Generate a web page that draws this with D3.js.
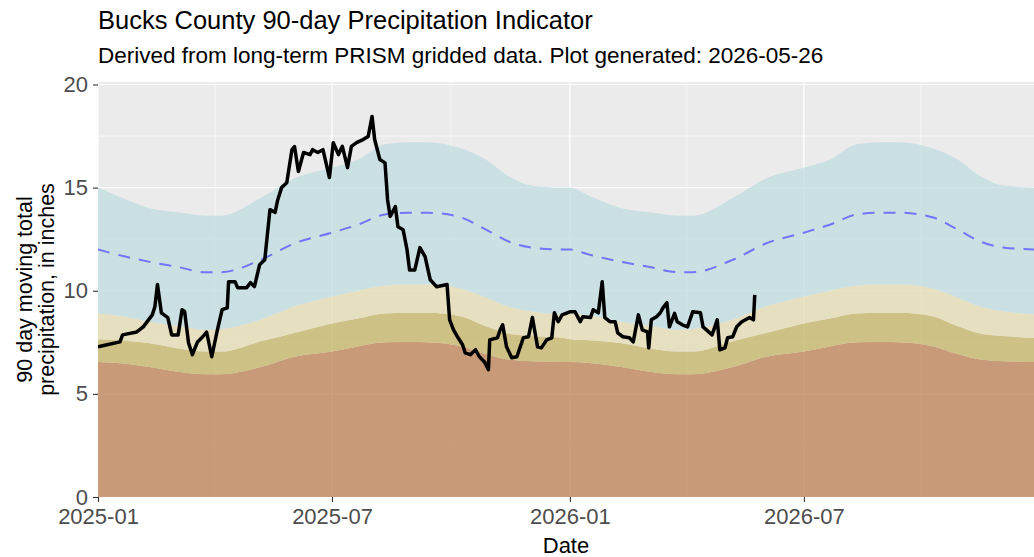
<!DOCTYPE html>
<html>
<head>
<meta charset="utf-8">
<script src="https://cdn.jsdelivr.net/npm/d3@7"></script>
<style>
  body { margin: 0; background: #fff; }
  svg { display: block; font-family: "Liberation Sans", Arial, sans-serif; }
</style>
</head>
<body>
<svg id="chart" width="1034" height="557"></svg>
<script>
const obsDates = [
  "2025-01-01","2025-01-08","2025-01-18","2025-01-20","2025-01-31","2025-02-05","2025-02-12","2025-02-14",
  "2025-02-16","2025-02-19","2025-02-24","2025-02-27","2025-03-04","2025-03-07","2025-03-09","2025-03-12",
  "2025-03-15","2025-03-19","2025-03-23","2025-03-26","2025-03-30","2025-04-03","2025-04-07","2025-04-11",
  "2025-04-12","2025-04-17","2025-04-19","2025-04-26","2025-04-29","2025-05-02","2025-05-06","2025-05-10",
  "2025-05-14","2025-05-18","2025-05-20","2025-05-23","2025-05-27","2025-05-31","2025-06-02","2025-06-05",
  "2025-06-09","2025-06-14","2025-06-16","2025-06-20","2025-06-24","2025-06-29","2025-07-02","2025-07-06",
  "2025-07-09","2025-07-13","2025-07-16","2025-07-20","2025-07-25","2025-07-29","2025-08-01","2025-08-03",
  "2025-08-07","2025-08-11","2025-08-13","2025-08-15","2025-08-19","2025-08-21","2025-08-25","2025-08-28",
  "2025-08-30","2025-09-03","2025-09-07","2025-09-11","2025-09-15","2025-09-20","2025-09-28","2025-09-30",
  "2025-10-03","2025-10-06","2025-10-10","2025-10-12","2025-10-16","2025-10-20","2025-10-23","2025-10-27",
  "2025-10-30","2025-10-31","2025-11-06","2025-11-08","2025-11-10","2025-11-13","2025-11-17","2025-11-21",
  "2025-11-26","2025-11-30","2025-12-03","2025-12-07","2025-12-10","2025-12-14","2025-12-18","2025-12-20",
  "2025-12-23","2025-12-26","2026-01-01","2026-01-05","2026-01-09","2026-01-11","2026-01-17","2026-01-19",
  "2026-01-23","2026-01-26","2026-01-28","2026-02-01","2026-02-05","2026-02-07","2026-02-11","2026-02-16",
  "2026-02-19","2026-02-23","2026-02-26","2026-03-02","2026-03-03","2026-03-05","2026-03-09","2026-03-12",
  "2026-03-14","2026-03-17","2026-03-19","2026-03-23","2026-03-25","2026-03-29","2026-04-02","2026-04-06",
  "2026-04-12","2026-04-14","2026-04-21","2026-04-25","2026-04-27","2026-05-01","2026-05-03","2026-05-07",
  "2026-05-10","2026-05-14","2026-05-20","2026-05-23","2026-05-24"
];
const obsValues = [
  7.28, 7.38, 7.52, 7.86, 8.0, 8.25, 8.83, 9.22,
  10.3, 8.93, 8.7, 7.86, 7.86, 9.08, 9.0, 7.48,
  6.9, 7.52, 7.77, 8.0, 6.8, 8.0, 9.08, 9.17,
  10.44, 10.44, 10.15, 10.15, 10.39, 10.2, 11.26, 11.5,
  13.93, 13.8, 14.4, 15.0, 15.24, 16.84, 16.99, 15.78,
  16.7, 16.6, 16.84, 16.7, 16.84, 15.49, 17.18, 16.6,
  17.0, 15.97, 17.0, 17.18, 17.33, 17.48, 18.45, 17.33,
  16.36, 16.2, 14.4, 13.6, 14.08, 13.1, 12.96, 12.0,
  11.0, 11.0, 12.09, 11.65, 10.53, 10.19, 10.3, 8.59,
  8.1, 7.77, 7.38, 6.99, 6.9, 7.14, 6.8, 6.55,
  6.17, 7.62, 7.72, 8.1, 8.35, 7.28, 6.75, 6.8,
  7.72, 7.77, 8.7, 7.28, 7.23, 7.62, 7.72, 8.93,
  8.5, 8.83, 8.98, 8.98, 8.5, 8.74, 8.7, 9.08,
  8.93, 10.44, 8.7, 8.5, 8.5, 7.96, 7.77, 7.72,
  7.52, 8.83, 8.1, 8.0, 7.23, 8.59, 8.74, 8.93,
  9.17, 9.42, 8.25, 8.9, 8.5, 8.35, 8.25, 8.98,
  8.93, 8.25, 7.86, 8.59, 7.14, 7.23, 7.72, 7.77,
  8.25, 8.5, 8.7, 8.59, 9.8
];

// long-term climatology (same every year), month-day anchors
const climDays = ["01-01","01-16","02-10","03-04","03-25","04-06","05-07","06-02","06-30",
  "07-21","08-11","08-29","09-13","10-09","10-27","11-16","12-02","12-26"];
const climSevere   = [6.55, 6.5, 6.3, 6.07, 5.95, 5.95, 6.3, 6.8, 7.04, 7.3, 7.5, 7.52, 7.5, 7.3, 6.95, 6.65, 6.58, 6.55];
const climModerate = [7.65, 7.6, 7.45, 7.2, 7.05, 7.05, 7.55, 7.95, 8.4, 8.65, 8.9, 8.93, 8.93, 8.75, 8.3, 7.9, 7.8, 7.72];
const climMild     = [8.9, 8.8, 8.5, 8.3, 8.1, 8.15, 8.6, 9.25, 9.7, 10.0, 10.25, 10.3, 10.3, 10.1, 9.7, 9.2, 9.0, 8.85];
const climHigh     = [15.0, 14.6, 14.0, 13.8, 13.64, 13.64, 14.5, 15.45, 15.95, 16.35, 17.1, 17.2, 17.2, 16.9, 16.4, 15.5, 15.1, 15.0];
const climMean     = [12.0, 11.75, 11.4, 11.15, 10.9, 10.9, 11.5, 12.3, 12.8, 13.2, 13.7, 13.78, 13.78, 13.55, 13.0, 12.35, 12.1, 12.0];
const climYears = [2025, 2026];

const xTicks = ["2025-01-01", "2025-07-01", "2026-01-01", "2026-07-01"];
const yTicks = [0, 5, 10, 15, 20];

const title = "Bucks County 90-day Precipitation Indicator";
const subtitle = "Derived from long-term PRISM gridded data. Plot generated: 2026-05-26";

const parse = d3.utcParse("%Y-%m-%d");
const margin = { top: 82, right: 0, bottom: 60, left: 98 };
const svgWidth = 1034, svgHeight = 557;
const width = svgWidth - margin.left - margin.right;
const height = svgHeight - margin.top - margin.bottom;

const obs = obsDates.map((d, i) => ({ date: parse(d), value: obsValues[i] }));
const clim = [];
climYears.forEach(yr => {
  climDays.forEach((md, i) => {
    clim.push({
      date: parse(`${yr}-${md}`),
      severe: climSevere[i], moderate: climModerate[i], mild: climMild[i],
      high: climHigh[i], mean: climMean[i]
    });
  });
});

const x = d3.scaleUtc()
  .domain([parse("2025-01-01"), parse("2026-12-26")])
  .range([0, width]);
const y = d3.scaleLinear()
  .domain([0, 20.12])
  .range([height, 0]);

const svg = d3.select("#chart");
const g = svg.append("g").attr("transform", `translate(${margin.left},${margin.top})`);

g.append("clipPath").attr("id", "clip")
  .append("rect").attr("width", width).attr("height", height);

g.append("rect").attr("width", width).attr("height", height).attr("fill", "#ebebeb");

// grid: minor then major
const xMajor = xTicks.map(parse);
const xMinor = d3.pairs(xMajor).map(([a, b]) => new Date((+a + +b) / 2));
xMinor.push(new Date(+xMajor[3] + (+xMajor[3] - +xMajor[2]) / 2));
const yMinor = d3.pairs(yTicks).map(([a, b]) => (a + b) / 2);

const grid = g.append("g").attr("clip-path", "url(#clip)");
grid.selectAll(".ymin").data(yMinor).join("line")
  .attr("x1", 0).attr("x2", width).attr("y1", d => y(d)).attr("y2", d => y(d))
  .attr("stroke", "#fff").attr("stroke-width", 0.6);
grid.selectAll(".xmin").data(xMinor).join("line")
  .attr("y1", 0).attr("y2", height).attr("x1", d => x(d)).attr("x2", d => x(d))
  .attr("stroke", "#fff").attr("stroke-width", 0.6);
grid.selectAll(".ymaj").data(yTicks).join("line")
  .attr("x1", 0).attr("x2", width).attr("y1", d => y(d)).attr("y2", d => y(d))
  .attr("stroke", "#fff").attr("stroke-width", 1.2);
grid.selectAll(".xmaj").data(xMajor).join("line")
  .attr("y1", 0).attr("y2", height).attr("x1", d => x(d)).attr("x2", d => x(d))
  .attr("stroke", "#fff").attr("stroke-width", 1.2);

// climatology bands
const bands = [
  { lo: d => 0, hi: d => d.severe, fill: "#c1865a" },
  { lo: d => d.severe, hi: d => d.moderate, fill: "#c6b76d" },
  { lo: d => d.moderate, hi: d => d.mild, fill: "#e5ddb5" },
  { lo: d => d.mild, hi: d => d.high, fill: "#c3dde1" }
];
const plot = g.append("g").attr("clip-path", "url(#clip)");
bands.forEach(b => {
  plot.append("path")
    .datum(clim)
    .attr("fill", b.fill)
    .attr("fill-opacity", 0.8)
    .attr("d", d3.area()
      .curve(d3.curveMonotoneX)
      .x(d => x(d.date))
      .y0(d => y(b.lo(d)))
      .y1(d => y(b.hi(d))));
});

plot.append("path")
  .datum(clim)
  .attr("fill", "none")
  .attr("stroke", "#5a5aff")
  .attr("stroke-opacity", 0.8)
  .attr("stroke-width", 2)
  .attr("stroke-dasharray", "12,9")
  .attr("d", d3.line().curve(d3.curveMonotoneX).x(d => x(d.date)).y(d => y(d.mean)));

plot.append("path")
  .datum(obs)
  .attr("fill", "none")
  .attr("stroke", "#000")
  .attr("stroke-width", 3.5)
  .attr("stroke-linejoin", "round")
  .attr("d", d3.line().x(d => x(d.date)).y(d => y(d.value)));

// axes
const xAxis = g.append("g")
  .attr("transform", `translate(0,${height})`)
  .call(d3.axisBottom(x).tickValues(xMajor).tickFormat(d3.utcFormat("%Y-%m")).tickSize(5).tickPadding(6));
const yAxis = g.append("g")
  .call(d3.axisLeft(y).tickValues(yTicks).tickSize(5).tickPadding(5));
[xAxis, yAxis].forEach(a => {
  a.select(".domain").remove();
  a.selectAll(".tick line").attr("stroke", "#333").attr("stroke-width", 1.1);
  a.selectAll(".tick text")
    .attr("fill", "#4d4d4d")
    .style("font-family", "'Liberation Sans', Arial, sans-serif")
    .style("font-size", "22px");
});

// titles
svg.append("text").attr("x", 98).attr("y", 29)
  .style("font-size", "25.5px").attr("fill", "#000").text(title);
svg.append("text").attr("x", 98).attr("y", 63)
  .style("font-size", "22.5px").attr("fill", "#000").text(subtitle);
svg.append("text").attr("x", margin.left + width / 2).attr("y", 553)
  .attr("text-anchor", "middle").style("font-size", "22px").text("Date");
const yTitle = svg.append("g")
  .attr("transform", `translate(0,${margin.top + height / 2}) rotate(-90)`)
  .attr("text-anchor", "middle").style("font-size", "21.5px");
yTitle.append("text").attr("x", 0).attr("y", 32).text("90 day moving total");
yTitle.append("text").attr("x", 0).attr("y", 54).text("precipitation, in inches");
</script>
</body>
</html>
